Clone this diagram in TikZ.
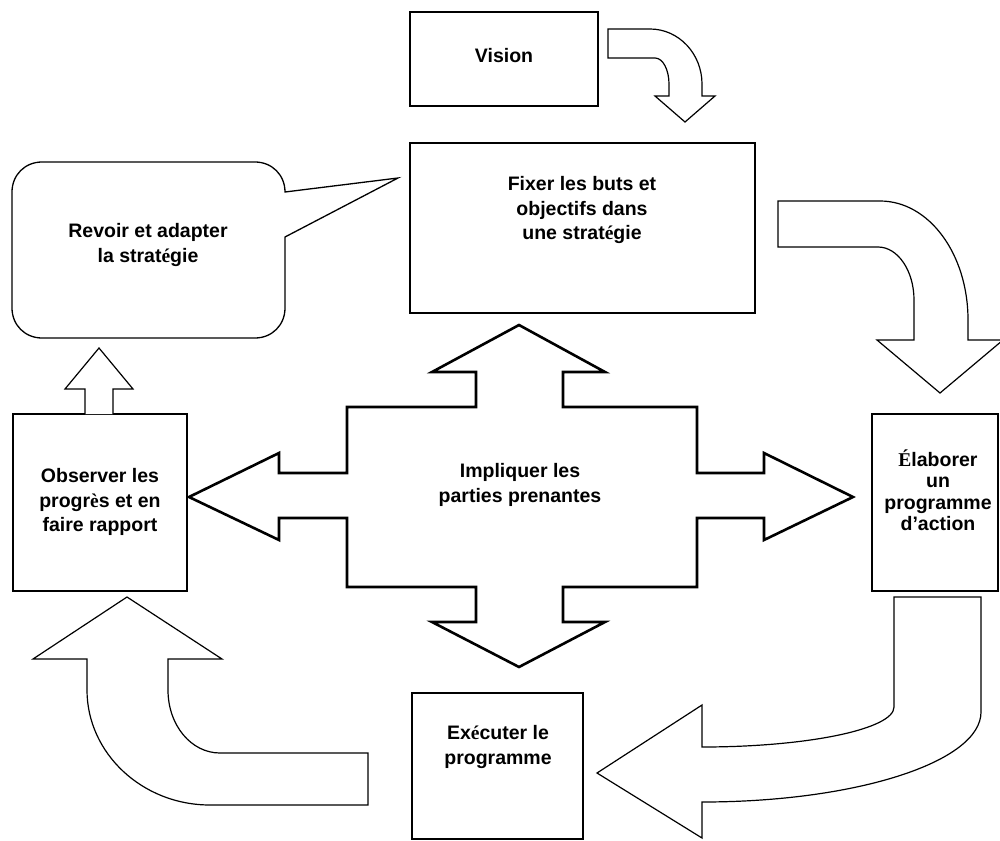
\documentclass[tikz,border=0pt]{standalone}
\usepackage{fontspec}
\setmainfont{Liberation Sans}
\newfontfamily\accfont{Liberation Serif}
\newcommand{\acc}[1]{{\accfont\bfseries #1}}
\begin{document}
\begin{tikzpicture}[x=1pt,y=-1pt,
  box/.style 2 args={draw, minimum width=#1, minimum height=#2, inner sep=0pt},
  lbl/.style={font=\bfseries\fontsize{19.5}{24.5}\selectfont, align=center, inner sep=0pt},
  blockarrow/.style={draw, line width=1.2pt, line join=miter, fill=white},
  bigarrow/.style={draw, line width=2.6pt, line join=miter}]
\useasboundingbox (0,0) rectangle (1000,840);
% boxes
\node[box={188}{94}, line width=1.8pt] (vision) at (504,59) {};
\node[box={345}{170}, line width=1.8pt] (fixer) at (582.5,228) {};
\node[box={174}{177}, line width=1.3pt] (observer) at (100,502.5) {};
\node[box={126}{177}, line width=1.6pt] (elaborer) at (935,502.5) {};
\node[box={171}{146}, line width=1.8pt] (executer) at (497.5,766) {};
% speech bubble
\draw[line width=1.3pt, line join=miter] (42,162) -- (255,162) .. controls (272,162) and (285,175) .. (285,192) -- (398,178) -- (285,237) -- (285,308) .. controls (285,325) and (272,338) .. (255,338) -- (42,338) .. controls (25,338) and (12,325) .. (12,308) -- (12,192) .. controls (12,175) and (25,162) .. (42,162) -- cycle;
% four-way arrow
\draw[bigarrow] (189,497) -- (279,453) -- (279,473) -- (347,473) -- (347,407) -- (476,407) -- (476,372) -- (432,372) -- (519,325) -- (605,372) -- (563,372) -- (563,407) -- (697,407) -- (697,473) -- (764,473) -- (764,453) -- (853,497) -- (764,540) -- (764,518) -- (697,518) -- (697,587) -- (563,587) -- (563,622) -- (605,622) -- (519,667) -- (432,622) -- (476,622) -- (476,587) -- (347,587) -- (347,518) -- (279,518) -- (279,540) -- cycle;
% Vision -> Fixer
\draw[blockarrow] (608,29) -- (650,29) .. controls (679,29) and (702,54) .. (702,84) -- (702,96) -- (715,96) -- (685,122) -- (655,96) -- (669,96) -- (669,84) .. controls (669,70) and (663,58) .. (655,58) -- (608,58) -- cycle;
% Fixer -> Elaborer
\draw[blockarrow] (778,201) -- (880,201) .. controls (929,201) and (968,254) .. (968,320) -- (968,340) -- (1003,340) -- (940,393) -- (877,340) -- (914,340) -- (914,300) .. controls (914,271) and (898,247) .. (878,247) -- (778,247) -- cycle;
% Elaborer -> Executer
\draw[blockarrow] (894,597) -- (981,597) -- (981,712) .. controls (981,762) and (856,802) .. (702,802) -- (702,838) -- (597,773) -- (702,705) -- (702,747) .. controls (808,747) and (894,729) .. (894,707) -- cycle;
% Executer -> Observer
\draw[blockarrow] (368,805) -- (210,805) .. controls (142,805) and (87,753) .. (87,690) -- (87,659) -- (33,659) -- (127,597) -- (222,659) -- (168,659) -- (168,690) .. controls (168,725) and (191,753) .. (220,753) -- (368,753) -- cycle;
% Observer -> Revoir
\draw[blockarrow] (85,414) -- (85,389) -- (65,389) -- (99,348) -- (133,389) -- (113,389) -- (113,414);
% labels
\node[lbl] (tvision) at (504,56) {Vision};
\node[lbl] (tfixer) at (582,210) {Fixer les buts et\\objectifs dans\\une strat\acc{é}gie};
\node[lbl] (trevoir) at (148,245) {Revoir et adapter\\la strat\acc{é}gie};
\node[lbl] (tobserver) at (100,502) {Observer les\\progr\acc{è}s et en\\faire rapport};
\node[lbl] (timpl) at (520,485) {Impliquer les\\parties prenantes};
\node[lbl, font=\bfseries\fontsize{19.5}{21.5}\selectfont] (telab) at (938,490) {\acc{É}laborer\\un\\programme\\d’action};
\node[lbl] (texec) at (498,747) {Ex\acc{é}cuter le\\programme};
\end{tikzpicture}
\end{document}
